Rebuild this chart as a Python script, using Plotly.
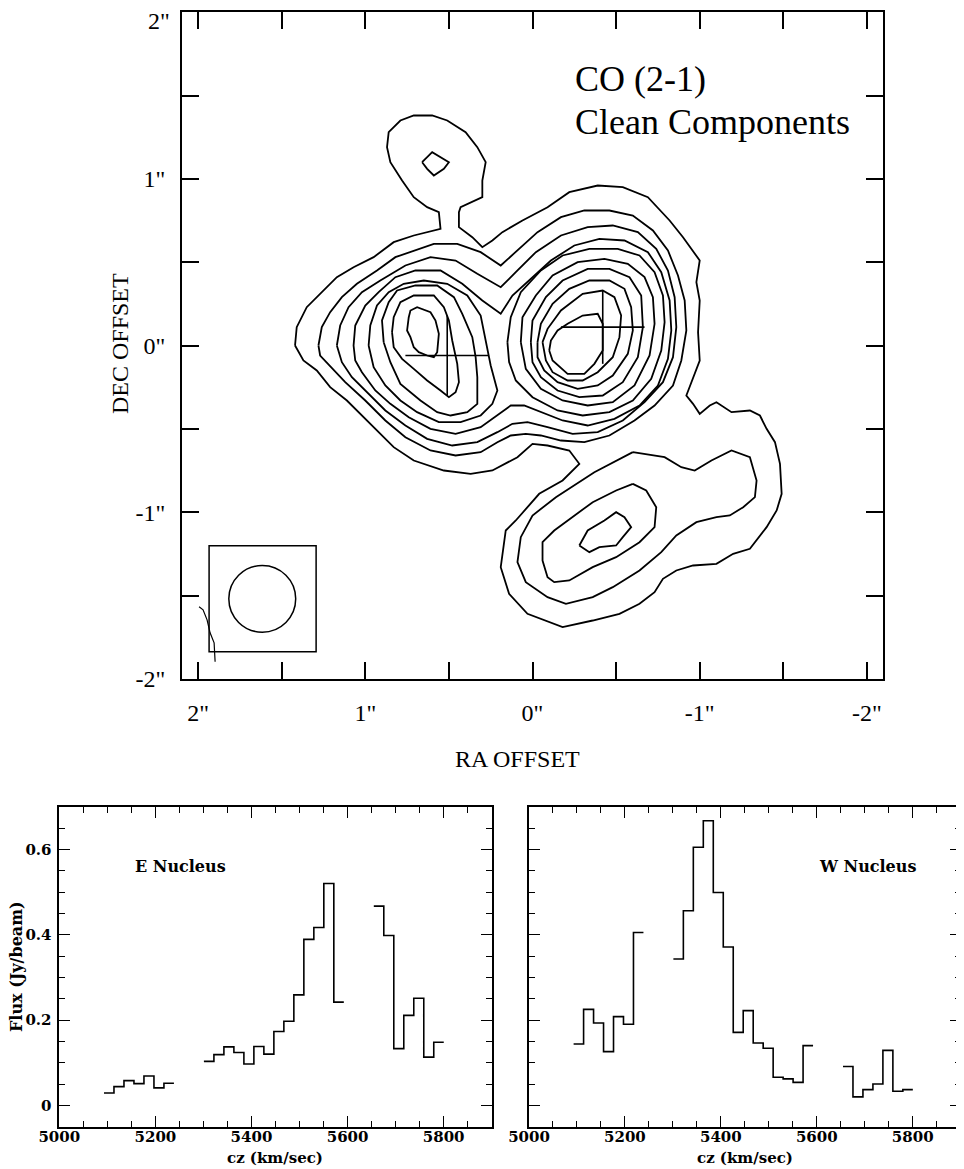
import plotly.graph_objects as go

# ---------------- top map: axis ticks (arcsec) ----------------
off_ticks = [2, 1.5, 1, 0.5, 0, -0.5, -1, -1.5, -2]
off_ticktext = ['2"', '', '1"', '', '0"', '', '-1"', '', '-2"']
dec_ticktext = ['', '', '1"', '', '0"', '', '-1"', '', '-2"']   # top label "2\"" drawn as text below
dec_top_label = '2"'

# ---------------- contours (RA offset, DEC offset) in arcsec ----------------
contour_outer = [(1.42,0.00),(1.41,0.11),(1.35,0.23),(1.25,0.33),(1.17,0.41),(1.07,0.47),(0.95,0.53),(0.83,0.62),
    (0.71,0.66),(0.55,0.70),(0.56,0.80),(0.63,0.83),(0.71,0.89),(0.78,0.99),(0.85,1.10),(0.87,1.19),(0.86,1.28),
    (0.79,1.35),(0.71,1.38),(0.60,1.38),(0.51,1.35),(0.40,1.28),(0.33,1.19),(0.28,1.10),(0.30,0.99),(0.30,0.89),
    (0.36,0.86),(0.43,0.83),(0.44,0.80),(0.44,0.71),(0.36,0.65),(0.30,0.59),(0.24,0.63),(0.18,0.68),(0.06,0.75),
    (-0.09,0.83),(-0.22,0.92),(-0.39,0.96),(-0.54,0.95),(-0.69,0.89),(-0.82,0.75),(-0.90,0.65),(-1.00,0.51),
    (-0.98,0.38),(-1.00,0.27),(-0.99,0.08),(-1.00,-0.09),(-0.96,-0.19),(-0.92,-0.30),(-0.96,-0.35),(-1.00,-0.41),
    (-1.06,-0.36),(-1.10,-0.34),(-1.19,-0.40),(-1.30,-0.39),(-1.36,-0.42),(-1.40,-0.50),(-1.45,-0.58),(-1.48,-0.71),
    (-1.49,-0.89),(-1.46,-0.99),(-1.40,-1.09),(-1.30,-1.22),(-1.20,-1.25),(-1.10,-1.31),(-0.96,-1.32),(-0.86,-1.35),
    (-0.78,-1.40),(-0.73,-1.48),(-0.64,-1.55),(-0.52,-1.61),(-0.36,-1.65),(-0.18,-1.69),(0.03,-1.61),(0.14,-1.49),
    (0.19,-1.33),(0.16,-1.11),(0.10,-1.05),(-0.04,-0.89),(-0.18,-0.81),(-0.28,-0.71),(-0.22,-0.63),(-0.09,-0.60),
    (0.00,-0.59),(0.09,-0.67),(0.24,-0.75),(0.37,-0.77),(0.53,-0.75),(0.71,-0.69),(0.83,-0.61),(0.91,-0.53),
    (1.01,-0.43),(1.11,-0.33),(1.21,-0.25),(1.29,-0.15),(1.37,-0.09)]

contour_north_peak = [(0.66,1.10),(0.60,1.16),(0.50,1.10),(0.53,1.06),(0.59,1.02),(0.63,1.06)]

contour_EW_2 = [(1.28,0.00),(1.26,0.11),(1.21,0.20),(1.14,0.29),(1.05,0.37),(0.93,0.45),(0.82,0.53),(0.71,0.57),
    (0.59,0.61),(0.45,0.61),(0.31,0.56),(0.19,0.48),(0.09,0.57),(-0.03,0.68),(-0.17,0.77),(-0.31,0.81),(-0.46,0.81),
    (-0.60,0.78),(-0.72,0.69),(-0.81,0.57),(-0.87,0.42),(-0.91,0.27),(-0.92,0.09),(-0.89,-0.09),(-0.84,-0.24),
    (-0.73,-0.36),(-0.61,-0.45),(-0.46,-0.54),(-0.31,-0.58),(-0.17,-0.57),(-0.05,-0.54),(0.04,-0.53),(0.13,-0.54),
    (0.21,-0.58),(0.31,-0.64),(0.46,-0.66),(0.61,-0.63),(0.76,-0.55),(0.88,-0.45),(1.00,-0.33),(1.12,-0.22),
    (1.21,-0.12),(1.27,-0.06)]

contour_EW_3 = [(1.17,0.00),(1.15,0.12),(1.10,0.23),(1.02,0.32),(0.91,0.39),(0.76,0.48),(0.61,0.53),(0.46,0.51),
    (0.33,0.43),(0.19,0.35),(0.10,0.44),(-0.02,0.56),(-0.17,0.66),(-0.33,0.71),(-0.48,0.72),(-0.63,0.68),(-0.74,0.58),
    (-0.81,0.45),(-0.85,0.29),(-0.86,0.11),(-0.84,-0.07),(-0.78,-0.22),(-0.67,-0.34),(-0.54,-0.45),(-0.39,-0.52),
    (-0.24,-0.53),(-0.09,-0.49),(0.03,-0.46),(0.12,-0.47),(0.21,-0.52),(0.33,-0.58),(0.48,-0.60),(0.63,-0.56),
    (0.76,-0.48),(0.88,-0.39),(0.98,-0.29),(1.08,-0.19),(1.14,-0.10)]

contour_EW_4 = [(1.07,0.00),(1.06,0.12),(1.00,0.24),(0.92,0.32),(0.82,0.41),(0.70,0.45),(0.55,0.45),(0.42,0.37),
    (0.30,0.27),(0.19,0.19),(0.12,0.30),(0.01,0.40),(-0.11,0.51),(-0.25,0.60),(-0.40,0.64),(-0.55,0.63),(-0.69,0.56),
    (-0.77,0.44),(-0.82,0.27),(-0.83,0.09),(-0.81,-0.08),(-0.75,-0.24),(-0.64,-0.36),(-0.49,-0.44),(-0.33,-0.48),
    (-0.18,-0.45),(-0.05,-0.40),(0.05,-0.36),(0.13,-0.36),(0.21,-0.42),(0.31,-0.49),(0.46,-0.53),(0.61,-0.50),
    (0.74,-0.43),(0.85,-0.35),(0.94,-0.27),(1.02,-0.16),(1.06,-0.09)]

contour_E_5 = [(0.98,0.00),(0.97,0.12),(0.93,0.24),(0.86,0.32),(0.77,0.37),(0.65,0.39),(0.51,0.37),(0.39,0.30),
    (0.31,0.18),(0.28,0.03),(0.25,-0.12),(0.21,-0.27),(0.24,-0.35),(0.31,-0.42),(0.43,-0.46),(0.56,-0.46),
    (0.69,-0.40),(0.79,-0.33),(0.88,-0.24),(0.95,-0.13)]
contour_E_6 = [(0.89,0.02),(0.90,0.15),(0.86,0.26),(0.81,0.33),(0.70,0.36),(0.57,0.36),(0.47,0.29),(0.42,0.19),
    (0.36,0.05),(0.34,-0.07),(0.33,-0.19),(0.33,-0.35),(0.39,-0.40),(0.49,-0.42),(0.57,-0.40),(0.67,-0.33),
    (0.79,-0.23),(0.85,-0.10)]
contour_E_7 = [(0.84,0.08),(0.83,0.17),(0.79,0.26),(0.71,0.30),(0.59,0.30),(0.53,0.23),(0.50,0.15),(0.48,0.03),
    (0.45,-0.11),(0.44,-0.22),(0.46,-0.28),(0.50,-0.31),(0.55,-0.27),(0.63,-0.21),(0.71,-0.14),(0.78,-0.08),
    (0.83,-0.01)]
contour_E_8 = [(0.74,0.17),(0.73,0.21),(0.69,0.23),(0.61,0.20),(0.58,0.15),(0.56,0.07),(0.57,-0.04),(0.59,-0.07),
    (0.63,-0.06),(0.68,-0.04),(0.71,-0.01),(0.73,0.05),(0.75,0.09)]

contour_W_5 = [(0.15,0.02),(0.13,0.17),(0.07,0.32),(-0.05,0.45),(-0.18,0.54),(-0.34,0.58),(-0.51,0.58),(-0.64,0.54),
    (-0.73,0.44),(-0.78,0.30),(-0.79,0.14),(-0.77,-0.03),(-0.71,-0.20),(-0.60,-0.33),(-0.46,-0.40),(-0.30,-0.42),
    (-0.15,-0.39),(0.00,-0.31),(0.10,-0.21),(0.14,-0.10)]
contour_W_6 = [(0.07,0.02),(0.06,0.17),(-0.02,0.30),(-0.12,0.42),(-0.27,0.50),(-0.43,0.52),(-0.57,0.49),(-0.67,0.41),
    (-0.72,0.29),(-0.73,0.13),(-0.70,-0.06),(-0.61,-0.24),(-0.48,-0.34),(-0.33,-0.36),(-0.18,-0.33),(-0.05,-0.26),
    (0.04,-0.14)]
contour_W_7 = [(0.01,0.02),(0.00,0.15),(-0.08,0.29),(-0.18,0.39),(-0.33,0.46),(-0.46,0.46),(-0.58,0.41),(-0.65,0.30),
    (-0.66,0.11),(-0.63,-0.07),(-0.54,-0.22),(-0.42,-0.30),(-0.28,-0.31),(-0.15,-0.27),(-0.05,-0.19),(0.00,-0.10)]
contour_W_8 = [(-0.03,0.02),(-0.05,0.13),(-0.12,0.25),(-0.22,0.34),(-0.34,0.39),(-0.46,0.39),(-0.55,0.34),(-0.59,0.23),
    (-0.60,0.09),(-0.57,-0.05),(-0.48,-0.18),(-0.39,-0.24),(-0.27,-0.26),(-0.15,-0.22),(-0.07,-0.15),(-0.03,-0.07)]
contour_W_9 = [(-0.06,0.02),(-0.09,0.10),(-0.17,0.21),(-0.30,0.31),(-0.42,0.33),(-0.49,0.29),(-0.53,0.18),(-0.52,0.05),
    (-0.48,-0.07),(-0.39,-0.16),(-0.30,-0.21),(-0.21,-0.21),(-0.12,-0.16),(-0.08,-0.09)]
contour_W_10 = [(-0.10,-0.03),(-0.11,0.03),(-0.15,0.09),(-0.21,0.13),(-0.30,0.18),(-0.39,0.19),(-0.42,0.13),
    (-0.42,-0.03),(-0.37,-0.11),(-0.31,-0.17),(-0.21,-0.17),(-0.12,-0.09)]

contour_SW_2 = [(-0.60,-0.64),(-0.79,-0.67),(-0.89,-0.73),(-0.97,-0.75),(-1.07,-0.69),(-1.19,-0.63),(-1.30,-0.67),
    (-1.34,-0.81),(-1.33,-0.91),(-1.26,-0.97),(-1.18,-1.02),(-1.10,-1.03),(-0.98,-1.06),(-0.86,-1.14),(-0.77,-1.24),
    (-0.64,-1.35),(-0.48,-1.45),(-0.36,-1.51),(-0.20,-1.55),(-0.09,-1.51),(0.04,-1.42),(0.09,-1.30),(0.07,-1.15),
    (0.00,-1.02),(-0.14,-0.91),(-0.37,-0.76)]
contour_SW_3 = [(-0.60,-0.83),(-0.68,-0.87),(-0.74,-0.97),(-0.73,-1.09),(-0.64,-1.18),(-0.50,-1.27),(-0.36,-1.33),
    (-0.22,-1.41),(-0.13,-1.42),(-0.09,-1.39),(-0.06,-1.29),(-0.06,-1.18),(-0.13,-1.11),(-0.25,-1.02),(-0.36,-0.94),
    (-0.50,-0.87)]
contour_SW_4 = [(-0.28,-1.20),(-0.33,-1.11),(-0.43,-1.05),(-0.50,-1.00),(-0.55,-1.03),(-0.59,-1.09),(-0.54,-1.15),
    (-0.50,-1.20),(-0.40,-1.21),(-0.34,-1.24)]

all_contours = [contour_outer, contour_north_peak, contour_EW_2, contour_EW_3, contour_EW_4,
                contour_E_5, contour_E_6, contour_E_7, contour_E_8,
                contour_W_5, contour_W_6, contour_W_7, contour_W_8, contour_W_9, contour_W_10,
                contour_SW_2, contour_SW_3, contour_SW_4]

# nuclei positions (crosses)
nuc_ra = [0.51, -0.42]
nuc_dec = [-0.06, 0.11]
nuc_err_ra = [0.25, 0.25]
nuc_err_dec = [0.24, 0.22]

# beam
beam_center_ra = 1.616
beam_center_dec = -1.52
beam_radius = 0.20
beam_box_ra = [1.934, 1.294]
beam_box_dec = [-1.838, -1.202]

# edge fragment at lower-left
edge_ra = [1.994, 1.970, 1.946, 1.928, 1.904, 1.898]
edge_dec = [-1.568, -1.586, -1.646, -1.724, -1.784, -1.898]

# ---------------- spectra ----------------
cz = [5103.4, 5124.2, 5145.0, 5165.8, 5186.6, 5207.4, 5228.2, 5249.0, 5269.8, 5290.6,
      5311.4, 5332.2, 5353.0, 5373.8, 5394.6, 5415.4, 5436.2, 5457.0, 5477.8, 5498.6,
      5519.4, 5540.2, 5561.0, 5581.8, 5602.6, 5623.4, 5644.2, 5665.0, 5685.8, 5706.6,
      5727.4, 5748.2, 5769.0, 5789.8]
chan_width = 20.8
flux_E = [0.029, 0.044, 0.058, 0.051, 0.069, 0.041, 0.052, None, None, None,
          0.103, 0.119, 0.137, 0.124, 0.097, 0.138, 0.120, 0.173, 0.197, 0.259,
          0.389, 0.417, 0.520, 0.242, None, None, None, 0.467, 0.398, 0.133,
          0.211, 0.251, 0.113, 0.148]
flux_W = [0.144, 0.225, 0.193, 0.126, 0.208, 0.190, 0.405, None, None, None,
          0.343, 0.456, 0.605, 0.667, 0.499, 0.371, 0.171, 0.222, 0.146, 0.134,
          0.066, 0.062, 0.054, 0.140, None, None, None, 0.091, 0.020, 0.037,
          0.050, 0.129, 0.033, 0.037]

# ---------------- build figure ----------------
SERIF = "Liberation Serif"
BOLD = "DejaVu Serif"

# the page body has an 8px margin; the figure fills the rest of the 964x1169 window
W, H, OFF = 956, 1161, 8


def px(xp):
    return (xp - OFF) / W


def py(yp):
    return 1 - (yp - OFF) / H


fig = go.Figure()

for c in all_contours:
    xs = [p[0] for p in c] + [c[0][0]]
    ys = [p[1] for p in c] + [c[0][1]]
    fig.add_trace(go.Scatter(x=xs, y=ys, mode="lines", line=dict(color="black", width=1.8),
                             xaxis="x", yaxis="y", hoverinfo="skip"))

fig.add_trace(go.Scatter(x=nuc_ra, y=nuc_dec, mode="markers", marker=dict(size=1, color="black", opacity=0),
                         error_x=dict(type="data", array=nuc_err_ra, width=0, thickness=1.6, color="black"),
                         error_y=dict(type="data", array=nuc_err_dec, width=0, thickness=1.6, color="black"),
                         xaxis="x", yaxis="y", hoverinfo="skip"))

fig.add_trace(go.Scatter(x=edge_ra, y=edge_dec, mode="lines", line=dict(color="black", width=1.2),
                         xaxis="x", yaxis="y", hoverinfo="skip"))

fig.add_shape(type="rect", xref="x", yref="y", x0=beam_box_ra[0], x1=beam_box_ra[1],
              y0=beam_box_dec[0], y1=beam_box_dec[1], line=dict(color="black", width=1.5))
fig.add_shape(type="circle", xref="x", yref="y",
              x0=beam_center_ra + beam_radius, x1=beam_center_ra - beam_radius,
              y0=beam_center_dec - beam_radius, y1=beam_center_dec + beam_radius,
              line=dict(color="black", width=1.5))


def steps(vel, flux, w):
    xs, ys = [], []
    for v, f in zip(vel, flux):
        if f is None:
            if xs and xs[-1] is not None:
                xs.append(None)
                ys.append(None)
            continue
        xs += [v - w / 2, v + w / 2]
        ys += [f, f]
    return xs, ys


xe, ye = steps(cz, flux_E, chan_width)
xw, yw = steps(cz, flux_W, chan_width)
fig.add_trace(go.Scatter(x=xe, y=ye, mode="lines", line=dict(color="black", width=1.6),
                         connectgaps=False, xaxis="x2", yaxis="y2", hoverinfo="skip"))
fig.add_trace(go.Scatter(x=xw, y=yw, mode="lines", line=dict(color="black", width=1.6),
                         connectgaps=False, xaxis="x3", yaxis="y3", hoverinfo="skip"))

map_axis = dict(tickmode="array", tickvals=off_ticks, ticks="inside", ticklen=17,
                tickwidth=1.6, tickcolor="black", showline=True, linewidth=2, linecolor="black",
                mirror="ticks", showgrid=False, zeroline=False, automargin=False, ticklabeloverflow="allow",
                tickfont=dict(family=SERIF, size=24, color="black"))

spec_x = dict(range=[5000, 5900], tickmode="linear", tick0=5000, dtick=200, ticks="inside", ticklen=11,
              tickwidth=1.4, tickcolor="black", showline=True, linewidth=1.6, linecolor="black",
              mirror="ticks", showgrid=False, zeroline=False, automargin=False, ticklabeloverflow="allow",
              minor=dict(ticks="inside", ticklen=6, dtick=50, tick0=5000, tickwidth=1.2, tickcolor="black",
                         showgrid=False),
              tickfont=dict(family=BOLD, size=15, color="black", weight="bold"), ticklabelstandoff=-5)
spec_y = dict(range=[-0.05, 0.7], tickmode="linear", tick0=0, dtick=0.2, ticks="inside", ticklen=11,
              tickwidth=1.4, tickcolor="black", showline=True, linewidth=1.6, linecolor="black",
              mirror="ticks", showgrid=False, zeroline=False, automargin=False, ticklabeloverflow="allow",
              minor=dict(ticks="inside", ticklen=6, dtick=0.05, tick0=0, tickwidth=1.2, tickcolor="black",
                         showgrid=False),
              tickfont=dict(family=BOLD, size=15, color="black", weight="bold"), ticklabelstandoff=3)

fig.update_layout(
    width=W, height=H, margin=dict(l=0, r=0, t=0, b=0, pad=0),
    paper_bgcolor="white", plot_bgcolor="white", showlegend=False,
    xaxis=dict(map_axis, ticktext=off_ticktext, domain=[px(182), px(883)], range=[2.096, -2.096],
               anchor="y", ticklabelstandoff=11),
    yaxis=dict(map_axis, ticktext=dec_ticktext, domain=[py(679), py(12)], range=[-2.001, 2.001],
               anchor="x", ticklabelstandoff=10),
    xaxis2=dict(spec_x, domain=[px(59.3), px(491.7)], anchor="y2"),
    yaxis2=dict(spec_y, domain=[py(1126.7), py(806.7)], anchor="x2"),
    xaxis3=dict(spec_x, domain=[px(529), px(960.7)], anchor="y3"),
    yaxis3=dict(spec_y, domain=[py(1126.7), py(806.7)], anchor="x3", showticklabels=False),
)

ann = [
    dict(text=dec_top_label, x=px(172), y=py(21), xref="paper", yref="paper", xanchor="right",
         yanchor="middle", showarrow=False, font=dict(family=SERIF, size=24, color="black")),
    dict(text="CO (2-1)", x=px(573), y=py(79), xref="paper", yref="paper", xanchor="left",
         yanchor="middle", showarrow=False, font=dict(family=SERIF, size=36, color="black")),
    dict(text="Clean Components", x=px(573), y=py(122), xref="paper", yref="paper", xanchor="left",
         yanchor="middle", showarrow=False, font=dict(family=SERIF, size=36, color="black")),
    dict(text="RA OFFSET", x=px(517), y=py(759), xref="paper", yref="paper", xanchor="center",
         yanchor="middle", showarrow=False, font=dict(family=SERIF, size=24, color="black")),
    dict(text="DEC OFFSET", x=px(120), y=py(344), xref="paper", yref="paper", xanchor="center",
         yanchor="middle", showarrow=False, textangle=-90, font=dict(family=SERIF, size=24, color="black")),
    dict(text="Flux (Jy/beam)", x=px(16), y=py(967), xref="paper", yref="paper", xanchor="center",
         yanchor="middle", showarrow=False, textangle=-90,
         font=dict(family=BOLD, size=16, color="black", weight="bold")),
    dict(text="cz (km/sec)", x=px(275), y=py(1158), xref="paper", yref="paper", xanchor="center",
         yanchor="middle", showarrow=False, font=dict(family=BOLD, size=15, color="black", weight="bold")),
    dict(text="cz (km/sec)", x=px(745), y=py(1158), xref="paper", yref="paper", xanchor="center",
         yanchor="middle", showarrow=False, font=dict(family=BOLD, size=15, color="black", weight="bold")),
    dict(text="E Nucleus", x=5153, y=0.56, xref="x2", yref="y2", xanchor="left", yanchor="middle",
         showarrow=False, font=dict(family=BOLD, size=16, color="black", weight="bold")),
    dict(text="W Nucleus", x=5601, y=0.56, xref="x3", yref="y3", xanchor="left", yanchor="middle",
         showarrow=False, font=dict(family=BOLD, size=16, color="black", weight="bold")),
]
fig.update_layout(annotations=ann)

fig.write_html("out.html")
